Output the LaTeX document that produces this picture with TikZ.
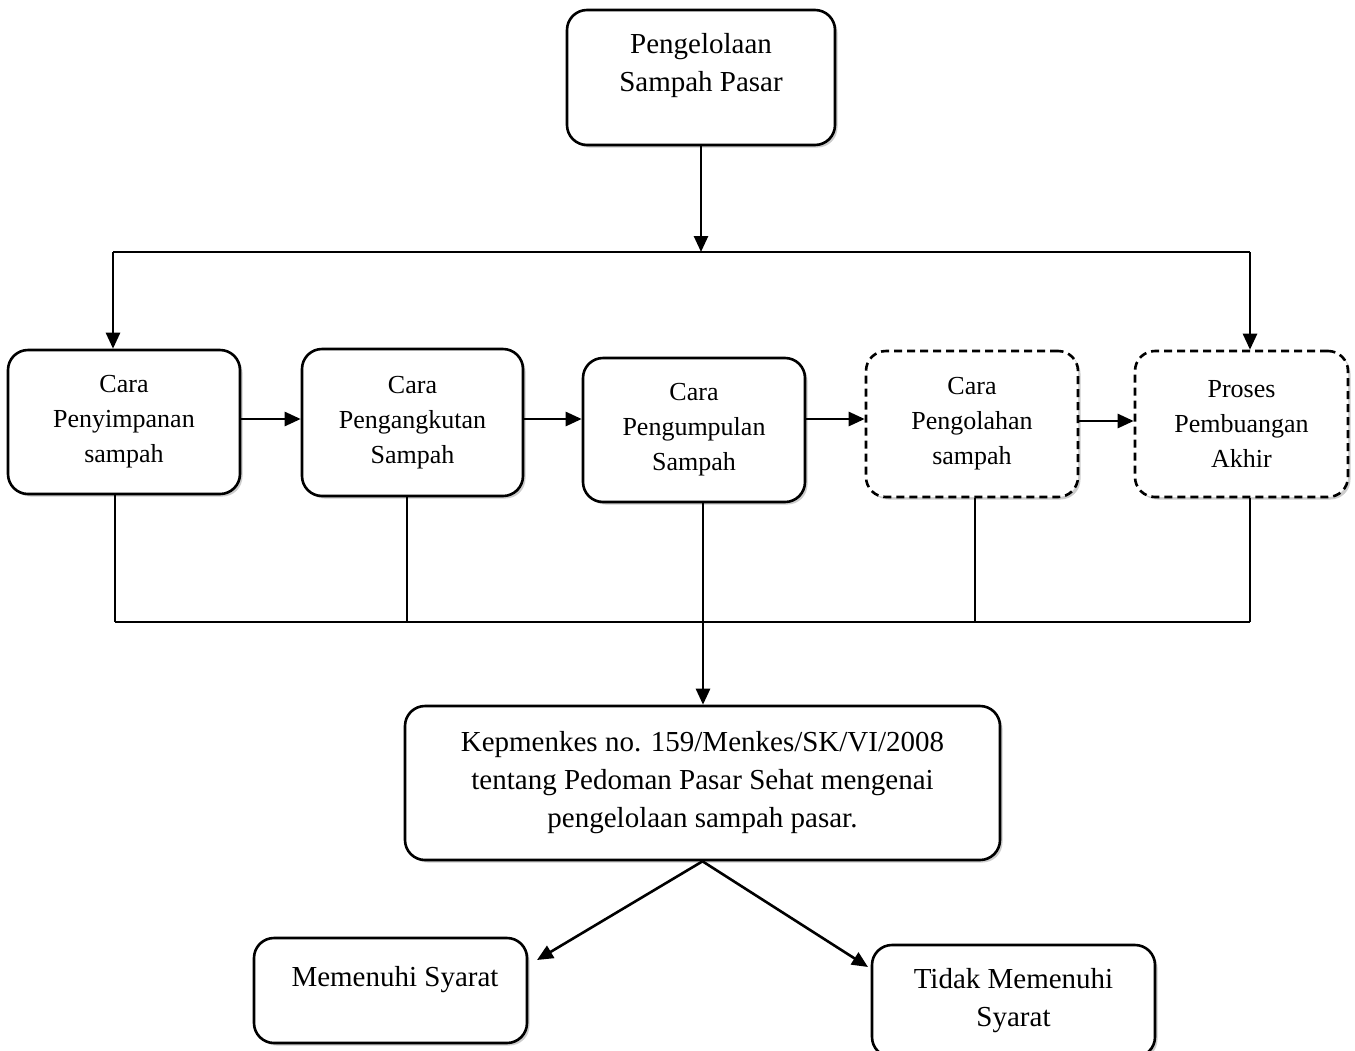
\documentclass[tikz,border=0pt]{standalone}
\usepackage{fontspec}
\setmainfont{Liberation Serif}
\usetikzlibrary{arrows.meta,shadows}
\begin{document}
\begin{tikzpicture}[x=1pt,y=-1pt,
  box/.style={draw, line width=2.6pt, rounded corners=20pt, fill=white, align=center, inner sep=0pt,
    drop shadow={shadow xshift=2.5pt,shadow yshift=-2.5pt,fill=black!40}},
  dbox/.style={box, dash pattern=on 8pt off 5pt},
  txt/.style={align=center, inner sep=0pt},
  arr/.style={line width=2.6pt, -{Triangle[length=16pt,width=14pt]}},
  ln/.style={line width=1.8pt},
  big/.style={font=\fontsize{29}{38}\selectfont},
  small/.style={font=\fontsize{26}{35}\selectfont},
]
\useasboundingbox (0,0) rectangle (1355,1050);
\clip (0,0) rectangle (1355,1050);

% top
\node[box, minimum width=268pt, minimum height=135pt] (top) at (701,77.5) {};
\node[txt, big] (toptext) at (701,66) {Pengelolaan\\Sampah Pasar};

% row
\node[box, small, minimum width=232pt, minimum height=144pt] (b1) at (124,422) {Cara\\Penyimpanan\\sampah};
\node[box, small, minimum width=221pt, minimum height=147pt] (b2) at (412.5,422.5) {Cara\\Pengangkutan\\Sampah};
\node[box, small, minimum width=222pt, minimum height=144pt] (b3) at (694,430) {Cara\\Pengumpulan\\Sampah};
\node[dbox, small, minimum width=212pt, minimum height=146pt] (b4) at (972,424) {Cara\\Pengolahan\\sampah};
\node[dbox, small, minimum width=213pt, minimum height=146pt] (b5) at (1241.5,424) {Proses\\Pembuangan\\Akhir};

% top distribution
\coordinate (jtop) at (701,252);
\coordinate (jl) at (113,252);
\coordinate (jr) at (1250,252);
\draw[arr] (top.south) -- (jtop);
\draw[line width=2.6pt] (jl) -- (jr);
\draw[arr] (jl) -- (jl |- b1.north);
\draw[arr] (jr) -- (jr |- b5.north);

% horizontal chain
\coordinate (r) at (0,419);
\draw[arr] (b1.east |- r) -- (b2.west |- r);
\draw[arr] (b2.east |- r) -- (b3.west |- r);
\draw[arr] (b3.east |- r) -- (b4.west |- r);
\coordinate (r2) at (0,421);
\draw[arr] (b4.east |- r2) -- (b5.west |- r2);

% bottom collection
\coordinate (q1) at (115,622);
\coordinate (q2) at (407,622);
\coordinate (q3) at (703,622);
\coordinate (q4) at (975,622);
\coordinate (q5) at (1250,622);
\draw[ln] (q1 |- b1.south) -- (q1);
\draw[ln] (q2 |- b2.south) -- (q2);
\draw[ln] (q3 |- b3.south) -- (q3);
\draw[ln] (q4 |- b4.south) -- (q4);
\draw[ln] (q5 |- b5.south) -- (q5);
\draw[ln] (q1) -- (q5);

% Kepmenkes
\node[box, big, minimum width=595pt, minimum height=154pt] (kep) at (702.5,783)
  {Kepmenkes no. 159/Menkes/SK/VI/2008\\tentang Pedoman Pasar Sehat mengenai\\pengelolaan sampah pasar.};
\draw[arr] (q3) -- (q3 |- kep.north);

% results
\node[box, minimum width=273pt, minimum height=105pt] (m) at (390.5,990.5) {};
\node[txt, big] (mtext) at (395,980) {Memenuhi Syarat};
\node[box, big, minimum width=283pt, minimum height=112pt] (t) at (1013.5,1001) {Tidak Memenuhi\\Syarat};

\coordinate (mtip) at (537,960);
\coordinate (ttip) at (868,967);
\draw[arr] (kep.south) -- (mtip);
\draw[arr] (kep.south) -- (ttip);
\end{tikzpicture}
\end{document}
